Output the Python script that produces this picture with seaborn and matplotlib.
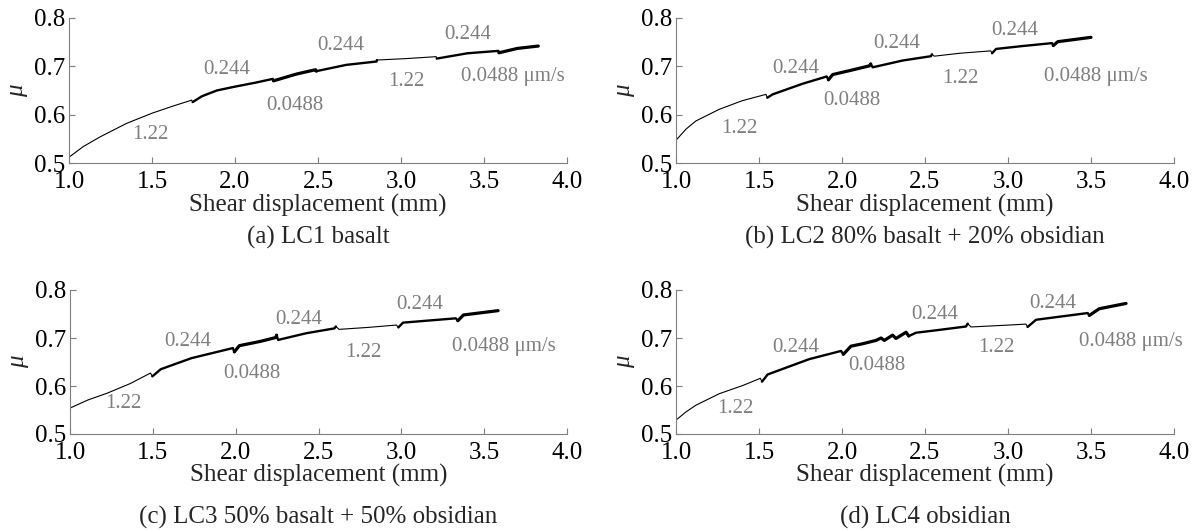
import seaborn as sns
import matplotlib.pyplot as plt
import pandas as pd

# velocity sequence shared by all four tests (um/s)
velocities = [1.22, 0.244, 0.0488, 0.244, 1.22, 0.244, 0.0488]
vel_labels = ["1.22", "0.244", "0.0488", "0.244", "1.22", "0.244", "0.0488 \u03bcm/s"]

# (a) LC1 basalt
a_disp = [1.00, 1.086, 1.187, 1.347, 1.50, 1.628, 1.739, 1.745, 1.80, 1.89, 2.00, 2.12, 2.228, 2.232,
          2.37, 2.485, 2.49, 2.67, 2.853, 2.855, 3.03, 3.212, 3.215, 3.40, 3.587, 3.59, 3.70, 3.827]
a_mu = [0.512, 0.534, 0.554, 0.582, 0.603, 0.618, 0.630, 0.626, 0.638, 0.650, 0.658, 0.666, 0.674, 0.670,
        0.684, 0.693, 0.690, 0.703, 0.710, 0.713, 0.716, 0.720, 0.716, 0.727, 0.732, 0.728, 0.737, 0.742]
a_steps = [1.0, 1.745, 2.232, 2.49, 2.855, 3.215, 3.59, 3.827]

# (b) LC2 80% basalt + 20% obsidian
b_disp = [1.00, 1.06, 1.12, 1.26, 1.40, 1.542, 1.55, 1.582, 1.763, 1.908, 1.918, 1.944, 2.044, 2.165,
          2.173, 2.185, 2.365, 2.536, 2.542, 2.556, 2.707, 2.896, 2.904, 2.928, 3.088, 3.265, 3.273,
          3.30, 3.50]
b_mu = [0.547, 0.570, 0.587, 0.611, 0.629, 0.642, 0.635, 0.642, 0.664, 0.679, 0.672, 0.683, 0.691, 0.701,
        0.705, 0.698, 0.712, 0.721, 0.725, 0.721, 0.727, 0.732, 0.727, 0.736, 0.742, 0.748, 0.743,
        0.751, 0.760]
b_steps = [1.0, 1.55, 1.918, 2.173, 2.542, 2.904, 3.273, 3.50]

# (c) LC3 50% basalt + 50% obsidian
c_disp = [1.00, 1.109, 1.224, 1.363, 1.486, 1.497, 1.548, 1.733, 1.983, 1.992, 2.022, 2.15, 2.242,
          2.247, 2.256, 2.427, 2.596, 2.605, 2.624, 2.797, 2.971, 2.982, 3.01, 3.329, 3.341, 3.375, 3.584]
c_mu = [0.554, 0.571, 0.585, 0.605, 0.627, 0.620, 0.635, 0.658, 0.679, 0.671, 0.684, 0.693, 0.701,
        0.706, 0.696, 0.710, 0.720, 0.724, 0.718, 0.722, 0.727, 0.722, 0.732, 0.741, 0.736, 0.748, 0.757]
c_steps = [1.0, 1.497, 1.992, 2.247, 2.605, 2.982, 3.341, 3.584]

# (d) LC4 obsidian
d_disp = [1.00, 1.06, 1.12, 1.261, 1.402, 1.508, 1.518, 1.552, 1.803, 1.994, 2.008, 2.054, 2.124, 2.205,
          2.235, 2.255, 2.305, 2.325, 2.386, 2.402, 2.446, 2.566, 2.747, 2.757, 2.777, 3.008, 3.108,
          3.118, 3.169, 3.480, 3.490, 3.55, 3.711]
d_mu = [0.529, 0.546, 0.560, 0.584, 0.601, 0.616, 0.609, 0.624, 0.656, 0.673, 0.666, 0.683, 0.688, 0.695,
        0.700, 0.695, 0.706, 0.699, 0.712, 0.704, 0.711, 0.716, 0.724, 0.730, 0.723, 0.727, 0.729,
        0.723, 0.738, 0.752, 0.747, 0.761, 0.772]
d_steps = [1.0, 1.518, 2.008, 2.402, 2.757, 3.118, 3.490, 3.711]

captions = ["(a) LC1 basalt", "(b) LC2 80% basalt + 20% obsidian",
            "(c) LC3 50% basalt + 50% obsidian", "(d) LC4 obsidian"]

# where the velocity labels sit (data coords)
a_lab_x = [1.49, 1.95, 2.36, 2.64, 3.03, 3.40, 3.675]
a_lab_y = [0.558, 0.693, 0.618, 0.744, 0.668, 0.766, 0.679]
b_lab_x = [1.38, 1.72, 2.06, 2.33, 2.71, 3.04, 3.53]
b_lab_y = [0.572, 0.695, 0.629, 0.748, 0.674, 0.774, 0.679]
c_lab_x = [1.32, 1.71, 2.10, 2.38, 2.77, 3.11, 3.62]
c_lab_y = [0.564, 0.693, 0.627, 0.739, 0.670, 0.769, 0.682]
d_lab_x = [1.36, 1.72, 2.21, 2.56, 2.93, 3.27, 3.74]
d_lab_y = [0.553, 0.680, 0.642, 0.748, 0.680, 0.772, 0.692]

line_width = {1.22: 0.8, 0.244: 1.7, 0.0488: 2.3}
grey = '#7f7f7f'

sns.set_style("ticks")
plt.rcParams['font.family'] = ['Liberation Serif', 'DejaVu Serif']

fig = plt.figure(figsize=(11.99, 5.30), dpi=100)
W, H = 1199, 530


def px_axes(left, top, right, bottom):
    return fig.add_axes([left / W, 1 - bottom / H, (right - left) / W, (bottom - top) / H])


panels = [
    (px_axes(69, 18, 567, 163), a_disp, a_mu, a_steps, a_lab_x, a_lab_y, 237),
    (px_axes(676, 18, 1174, 163), b_disp, b_mu, b_steps, b_lab_x, b_lab_y, 237),
    (px_axes(70, 290, 567, 434), c_disp, c_mu, c_steps, c_lab_x, c_lab_y, 517),
    (px_axes(676, 290, 1174, 434), d_disp, d_mu, d_steps, d_lab_x, d_lab_y, 517),
]

for i, (ax, disp, mu, steps, lab_x, lab_y, cap_y) in enumerate(panels):
    df = pd.DataFrame({"disp": disp, "mu": mu})
    for k, vel in enumerate(velocities):
        seg = df[(df.disp >= steps[k]) & (df.disp <= steps[k + 1])]
        sns.lineplot(data=seg, x="disp", y="mu", ax=ax, color='black',
                     linewidth=line_width[vel], sort=False, estimator=None)
    for txt, tx, ty in zip(vel_labels, lab_x, lab_y):
        ax.text(tx, ty, txt, color=grey, fontsize=15, ha='center', va='center')

    ax.set_xlim(1.0, 4.0)
    ax.set_ylim(0.5, 0.8)
    ax.set_xticks([1.0, 1.5, 2.0, 2.5, 3.0, 3.5, 4.0])
    ax.set_yticks([0.5, 0.6, 0.7, 0.8])
    ax.xaxis.set_major_formatter(plt.FormatStrFormatter('%.1f'))
    ax.yaxis.set_major_formatter(plt.FormatStrFormatter('%.1f'))
    ax.tick_params(direction='in', length=4, width=0.8, color=grey, labelsize=18,
                   labelcolor='black', pad=3)
    ax.tick_params(axis='x', pad=6)
    sns.despine(ax=ax)
    for side in ['left', 'bottom']:
        ax.spines[side].set_color(grey)
        ax.spines[side].set_linewidth(0.8)

    ax.set_xlabel("Shear displacement (mm)", fontsize=18)
    ax.xaxis.label.set_va('center')
    ax.xaxis.set_label_coords(0.5, -0.29)
    ax.set_ylabel("\u03bc", fontsize=18, fontstyle='italic')
    ax.yaxis.label.set_va('center')
    ax.yaxis.set_label_coords(-0.105, 0.5)

    pos = ax.get_position()
    fig.text(pos.x0 + pos.width / 2, 1 - cap_y / H, captions[i], fontsize=18,
             ha='center', va='center')

fig.savefig("out.png", dpi=100)
